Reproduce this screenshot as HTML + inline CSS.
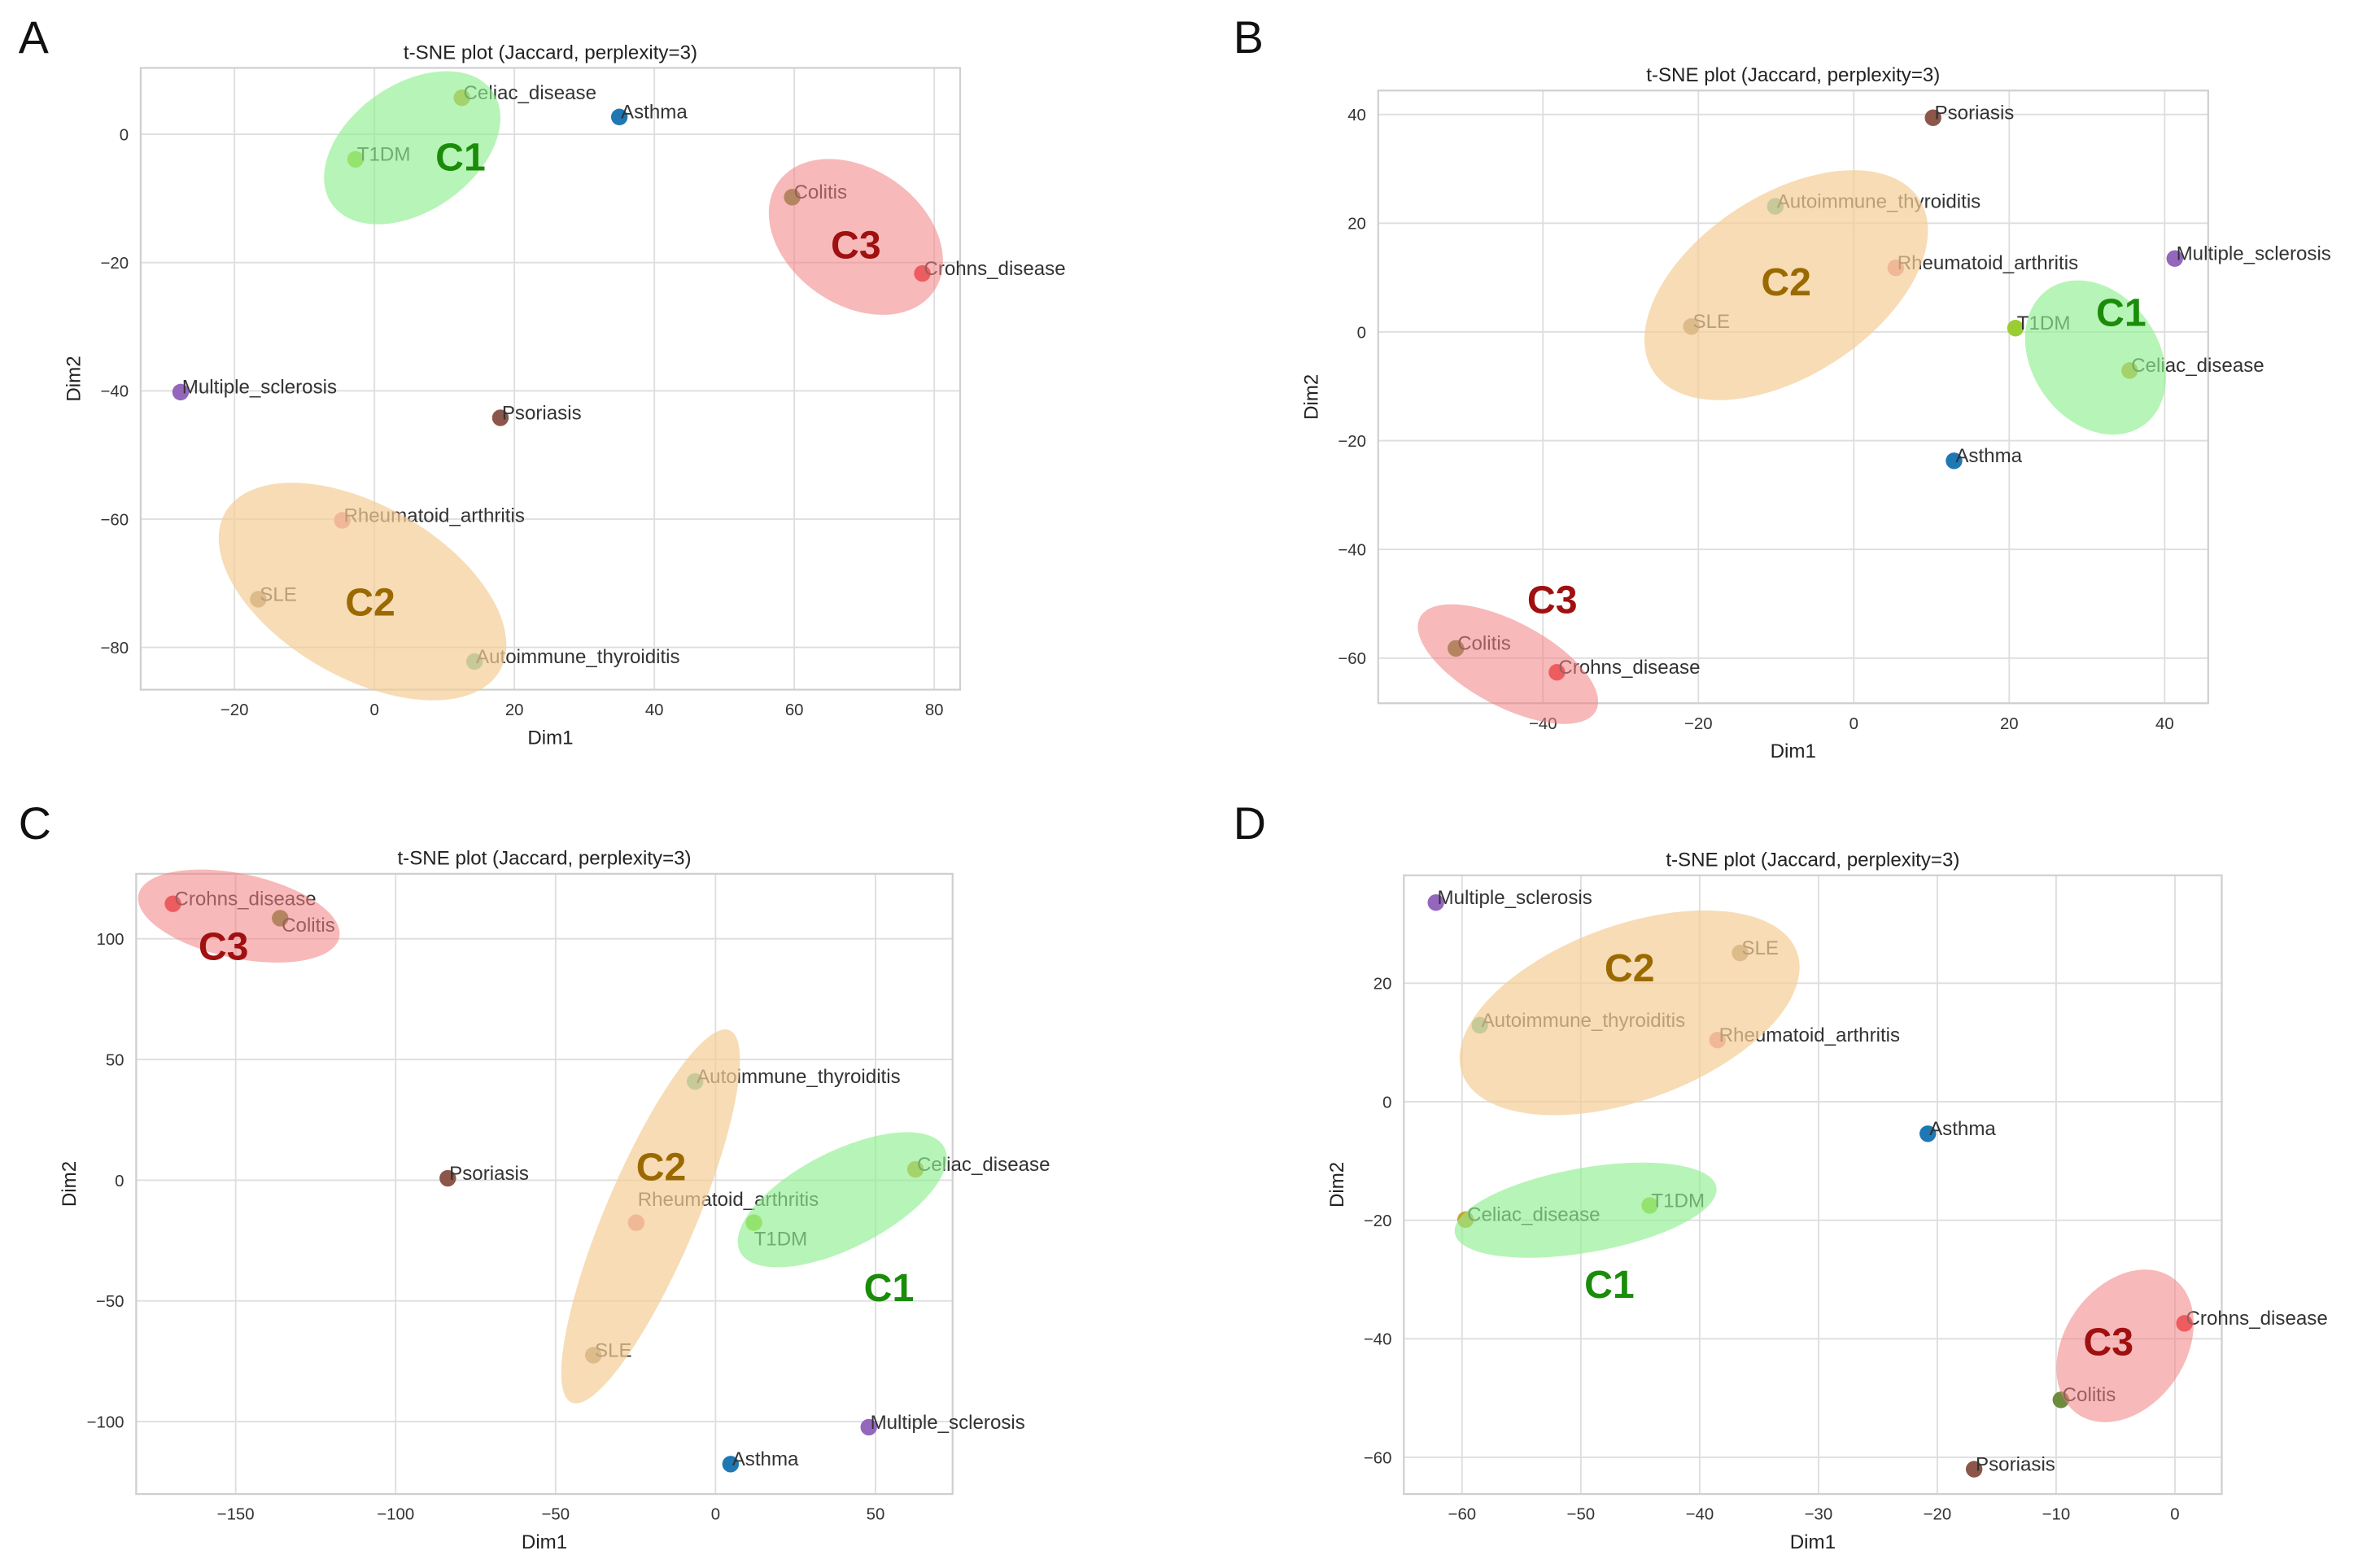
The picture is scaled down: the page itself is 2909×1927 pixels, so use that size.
<!DOCTYPE html>
<html><head><meta charset="utf-8"><style>
html,body{margin:0;padding:0;background:#fff;}
svg{display:block;font-family:"Liberation Sans","DejaVu Sans",sans-serif;}
</style></head><body>
<svg id="fig" width="2909" height="1927" viewBox="0 0 1568 1039" xmlns="http://www.w3.org/2000/svg"></svg>
<script>
const diseases = ["Asthma","Celiac_disease","T1DM","Colitis","Crohns_disease","Multiple_sclerosis","Psoriasis","Rheumatoid_arthritis","SLE","Autoimmune_thyroiditis"];
const colors = ["#1f77b4","#c9a227","#9acd32","#6e8b3d","#e8333a","#9467bd","#8c564b","#e8879a","#a89070","#5fbfa0"];

const dim1A = [35,12.5,-2.7,59.7,78.3,-27.7,18,-4.6,-16.6,14.3];
const dim2A = [2.7,5.7,-3.9,-9.8,-21.7,-40.2,-44.2,-60.2,-72.5,-82.2];
const dim1B = [12.9,35.5,20.8,-51.2,-38.2,41.3,10.2,5.4,-20.9,-10.1];
const dim2B = [-23.7,-7.1,0.7,-58.2,-62.6,13.5,39.4,11.8,1.0,23.1];
const dim1C = [4.7,62.5,12.0,-136.1,-169.6,47.9,-83.7,-24.8,-38.2,-6.4];
const dim2C = [-117.6,4.5,-17.6,108.5,114.5,-102.3,0.8,-17.6,-72.5,40.9];
const dim1D = [-20.8,-59.7,-44.2,-9.6,0.8,-62.2,-16.9,-38.5,-36.6,-58.5];
const dim2D = [-5.4,-19.9,-17.5,-50.3,-37.4,33.6,-62.0,10.4,25.1,12.9];

const xticksA = [-20,0,20,40,60,80];
const yticksA = [0,-20,-40,-60,-80];
const xticksB = [-40,-20,0,20,40];
const yticksB = [40,20,0,-20,-40,-60];
const xticksC = [-150,-100,-50,0,50];
const yticksC = [100,50,0,-50,-100];
const xticksD = [-60,-50,-40,-30,-20,-10,0];
const yticksD = [20,0,-20,-40,-60];

const clusterNames = ["C1","C2","C3"];
const clusterX_A = [5.4,-1.7,68.8], clusterY_A = [-2.1,-71.3,-16];
const clusterX_B = [31.1,-8.7,-44.5], clusterY_B = [-4.7,8.6,-61.1];
const clusterX_C = [39.6,-20.3,-149], clusterY_C = [-8.1,-15,109.4];
const clusterX_D = [-49.6,-45.9,-4.2], clusterY_D = [-18.3,15,-41.2];
const clabelX_A = [12.3,-0.6,68.8], clabelY_A = [-3.5,-72.9,-17.2];
const clabelX_B = [34.4,-8.7,-38.8], clabelY_B = [3.6,9.2,-49.2];
const clabelX_C = [54.2,-17,-153.8], clabelY_C = [-44.4,5.6,96.9];
const clabelX_D = [-47.6,-45.9,-5.6], clabelY_D = [-30.8,22.6,-40.5];

const fills = ["rgba(144,238,144,0.65)","rgba(243,205,150,0.7)","rgba(240,128,128,0.55)"];
const ctext = ["#1a8c0a","#9a6a00","#a01010"];
const NS = "http://www.w3.org/2000/svg";
const svg = document.getElementById('fig');

function mk(tag, attrs, parent){ const e=document.createElementNS(NS,tag); for(const k in attrs) e.setAttribute(k,attrs[k]); (parent||svg).appendChild(e); return e; }

const panels = [
 {id:"a",letter:"A",lx:12,ly:35,box:[93,45,636,457],xd:[-33.4,83.7],yd:[10.35,-86.6],xs:dim1A,ys:dim2A,xt:xticksA,yt:yticksA,cx:clusterX_A,cy:clusterY_A,lbx:clabelX_A,lby:clabelY_A,
  ell:[[65,42,-35],[105,57,30],[63,45,35]],off:{}},
 {id:"b",letter:"B",lx:817,ly:35,box:[913,60,1463,466],xd:[-61.2,45.6],yd:[44.4,-68.3],xs:dim1B,ys:dim2B,xt:xticksB,yt:yticksB,cx:clusterX_B,cy:clusterY_B,lbx:clabelX_B,lby:clabelY_B,
  ell:[[55,42,55],[105,60,-33],[66,28,28]],off:{}},
 {id:"c",letter:"C",lx:12,ly:556,box:[90,579,631,990],xd:[-181.1,74.1],yd:[126.9,-130],xs:dim1C,ys:dim2C,xt:xticksC,yt:yticksC,cx:clusterX_C,cy:clusterY_C,lbx:clabelX_C,lby:clabelY_C,
  ell:[[76,32,-27],[134,30,-67],[68,28,12]],off:{3:[1,9],2:[0,15],7:[1,-11]}},
 {id:"d",letter:"D",lx:817,ly:556,box:[930,580,1472,990],xd:[-64.9,3.94],yd:[38.2,-66.2],xs:dim1D,ys:dim2D,xt:xticksD,yt:yticksD,cx:clusterX_D,cy:clusterY_D,lbx:clabelX_D,lby:clabelY_D,
  ell:[[88,28,-10],[118,58,-20],[55,40,-55]],off:{}}
];

panels.forEach(p=>{
  const [x0,y0,x1,y1]=p.box;
  const sx=v=>x0+(v-p.xd[0])/(p.xd[1]-p.xd[0])*(x1-x0);
  const sy=v=>y0+(v-p.yd[0])/(p.yd[1]-p.yd[0])*(y1-y0);
  const g=mk('g',{});
  
  
  const L=mk('text',{x:p.lx,y:p.ly,'font-size':30,fill:'#111'},g); L.textContent=p.letter;
  
  
  const T=mk('text',{x:(x0+x1)/2,y:y0-6,'font-size':13,'text-anchor':'middle',fill:'#222'},g); T.textContent="t-SNE plot (Jaccard, perplexity=3)";
  
  
  p.xt.forEach(v=>{
    const X=sx(v);
    const gl=mk('line',{x1:X,x2:X,y1:y0,y2:y1,stroke:'#dedede','stroke-width':1},g);
    
    
    const t=mk('text',{x:X,y:y1+17,'font-size':11,'text-anchor':'middle',fill:'#333'},g); t.textContent=String(v).replace('-','\u2212');
    
    
  });
  p.yt.forEach(v=>{
    const Y=sy(v);
    const gl=mk('line',{x1:x0,x2:x1,y1:Y,y2:Y,stroke:'#dedede','stroke-width':1},g);
    
    
    const t=mk('text',{x:x0-8,y:Y+4,'font-size':11,'text-anchor':'end',fill:'#333'},g); t.textContent=String(v).replace('-','\u2212');
    
    
  });
  const bx=mk('rect',{x:x0,y:y0,width:x1-x0,height:y1-y0,fill:'none',stroke:'#cfcfcf','stroke-width':1.2},g);
  
  
  const xl=mk('text',{x:(x0+x1)/2,y:y1+36,'font-size':13,'text-anchor':'middle',fill:'#222'},g); xl.textContent="Dim1";
  
  
  const yx=x0-40, yy=(y0+y1)/2;
  const yl=mk('text',{x:yx,y:yy,'font-size':13,'text-anchor':'middle',fill:'#222',transform:`rotate(-90 ${yx} ${yy})`},g); yl.textContent="Dim2";
  
  
  diseases.forEach((d,i)=>{
    const X=sx(p.xs[i]), Y=sy(p.ys[i]);
    const c=mk('circle',{cx:X,cy:Y,r:5.5,fill:colors[i]},g);
    
    
    const o=p.off[i]||[1,1];
    const t=mk('text',{x:X+o[0],y:Y+o[1],'font-size':13,fill:'#333'},g); t.textContent=d;
    
    
  });
  clusterNames.forEach((n,k)=>{
    const X=sx(p.cx[k]), Y=sy(p.cy[k]); const e=p.ell[k];
    const el=mk('ellipse',{cx:X,cy:Y,rx:e[0],ry:e[1],fill:fills[k],transform:`rotate(${e[2]} ${X} ${Y})`},g);
    
    
  });
  clusterNames.forEach((n,k)=>{
    const t=mk('text',{x:sx(p.lbx[k]),y:sy(p.lby[k])+9,'font-size':26,'font-weight':'bold','text-anchor':'middle',fill:ctext[k]},g); t.textContent=n;
    
    
  });
});
</script>
</body></html>
